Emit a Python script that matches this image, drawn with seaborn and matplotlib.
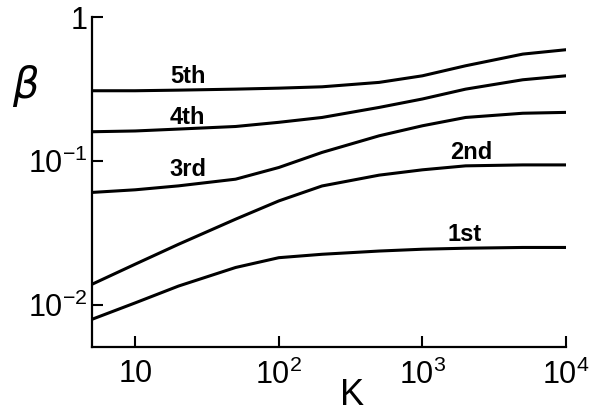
import matplotlib
matplotlib.use("Agg")
import matplotlib.pyplot as plt
import numpy as np
import pandas as pd
import seaborn as sns

# values (log-log)
k_values = [5, 10, 20, 50, 100, 200, 500, 1000, 2000, 5000, 10000]
beta_1st = [0.0080, 0.0104, 0.0136, 0.0183, 0.0214, 0.0226, 0.0238, 0.0245, 0.0249, 0.0252, 0.0252]
beta_2nd = [0.0140, 0.0193, 0.0265, 0.0396, 0.0530, 0.0673, 0.0800, 0.0871, 0.0928, 0.0942, 0.0942]
beta_3rd = [0.0607, 0.0633, 0.0674, 0.0750, 0.0904, 0.115, 0.150, 0.176, 0.201, 0.215, 0.218]
beta_4th = [0.160, 0.162, 0.167, 0.174, 0.186, 0.201, 0.236, 0.270, 0.316, 0.367, 0.391]
beta_5th = [0.308, 0.308, 0.311, 0.316, 0.321, 0.328, 0.352, 0.391, 0.459, 0.553, 0.593]

curve_names = ["1st", "2nd", "3rd", "4th", "5th"]
label_k = [1980, 2180, 23.4, 23.0, 23.4]
label_beta = [0.0311, 0.1155, 0.088, 0.202, 0.389]

x_ticks = [10, 100, 1000, 10000]
x_ticklabels = ["10", "$\\mathdefault{10^{2}}$", "$\\mathdefault{10^{3}}$", "$\\mathdefault{10^{4}}$"]
y_ticks = [0.01, 0.1, 1]
y_ticklabels = ["$\\mathdefault{10^{-2}}$", "$\\mathdefault{10^{-1}}$", "1"]

series = [beta_1st, beta_2nd, beta_3rd, beta_4th, beta_5th]
df = pd.concat(
    [pd.DataFrame({"K": k_values, "beta": vals, "order": name})
     for name, vals in zip(curve_names, series)],
    ignore_index=True,
)

sns.set_theme(style="ticks")
plt.rcParams["font.family"] = ["Liberation Sans", "DejaVu Sans"]
plt.rcParams["mathtext.fontset"] = "custom"
plt.rcParams["mathtext.rm"] = "Liberation Sans"

fig = plt.figure(figsize=(6.03, 4.12), dpi=100)
ax = fig.add_axes([0.1526, 0.1578, 0.7860, 0.8009])

sns.lineplot(data=df, x="K", y="beta", hue="order",
             palette={n: "black" for n in curve_names},
             linewidth=2.2, legend=False, estimator=None, sort=False, ax=ax)
for line in ax.lines:
    line.set_solid_joinstyle("round")

ax.set_xscale("log")
ax.set_yscale("log")
ax.set_xlim(5, 10000)
ax.set_ylim(0.00514, 1)

ax.set_xticks(x_ticks)
ax.set_xticklabels(x_ticklabels)
ax.set_yticks(y_ticks)
ax.set_yticklabels(y_ticklabels)
ax.minorticks_off()
ax.tick_params(axis="both", direction="in", length=8, width=1.5,
               labelsize=22, colors="black")
ax.tick_params(axis="x", pad=9)
ax.tick_params(axis="y", pad=3)

sns.despine(ax=ax)
for side in ["left", "bottom"]:
    ax.spines[side].set_linewidth(1.6)
    ax.spines[side].set_color("black")

for name, kx, by in zip(curve_names, label_k, label_beta):
    ax.text(kx, by, name, ha="center", va="center", fontsize=17,
            fontweight="bold", color="black")

ax.set_xlabel("K", fontsize=26, color="black")
ax.xaxis.set_label_coords(0.549, -0.095)
ax.set_ylabel("$\\beta$", fontsize=30, rotation=0, ha="center", va="center",
              color="black")
ax.yaxis.set_label_coords(-0.139, 0.791)

fig.savefig("out.png", dpi=100)
